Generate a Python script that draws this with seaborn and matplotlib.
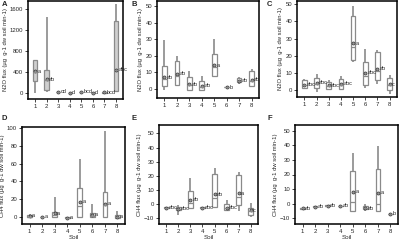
import numpy as np
import pandas as pd
import matplotlib
matplotlib.use("Agg")
import matplotlib.pyplot as plt
import seaborn as sns

sns.set_style("ticks")
plt.rcParams['font.family'] = ['Liberation Sans', 'DejaVu Sans']

soils = ['1', '2', '3', '4', '5', '6', '7', '8']

# box stats per soil: [whisker low, q1, median, q3, whisker high]
a_box = [[0, 224, 400, 640, 640], [32, 64, 250, 448, 1460], [25, 28, 30, 32, 35],
         [2, 4, 5, 6, 8], [20, 23, 25, 27, 30], [2, 4, 5, 6, 8],
         [10, 13, 15, 17, 20], [30, 40, 450, 1376, 1700]]
a_mean = [416, 270, 30, 5, 25, 5, 15, 450]
a_let = ['a', 'ab', 'cd', 'd', 'bcd', 'd', 'bcd', 'abc']

b_box = [[-0.8, 1.6, 6, 13.6, 29.6], [2.6, 2.6, 8, 16.6, 20], [-1.4, -0.4, 2.5, 7.2, 10.6],
         [-0.4, -0.4, 1.5, 4.6, 8], [7.6, 7.6, 13, 21.2, 30], [0.8, 1.0, 1.2, 1.4, 1.6],
         [3, 4, 5, 6.5, 7.5], [2, 2, 5, 10.6, 12]]
b_mean = [7, 9.2, 3, 2, 14.2, 1.2, 5, 5.6]
b_let = ['ab', 'ab', 'ab', 'ab', 'a', 'b', 'ab', 'ab']

c_box = [[1.2, 1.2, 2.5, 5.5, 6.5], [-1.4, 1.2, 3.5, 7, 9], [0.6, 0.6, 2, 4.5, 5.5],
         [0.6, 0.6, 3, 6.5, 8], [16.4, 17.4, 25, 43, 49], [1.2, 2.6, 8, 16.4, 23.7],
         [3.6, 5.5, 11, 22.3, 23], [-2.4, 0, 2.5, 7, 8.5]]
c_mean = [3, 4, 2.6, 3.6, 27.3, 9.9, 12.4, 3.2]
c_let = ['abc', 'abc', 'abc', 'abc', 'a', 'abc', 'ab', 'c']

d_box = [[0, 0, 0.5, 2.5, 3], [0, 0, 0, 0.3, 0.5], [0, 0, 2, 5.8, 22.5],
         [-1.2, -1, -0.8, -0.6, -0.4], [0, 0, 12, 32, 65], [0, 0, 1.5, 5, 14.7],
         [0, 0, 13, 28, 96], [-1.5, -1, 0, 2, 6.8]]
d_mean = [1.5, 0, 4, -0.8, 17, 2.3, 15, 0.4]
d_let = ['a'] * 8

e_box = [[-2.9, -2.7, -2.5, -2.3, -2.1], [-7.6, -4.5, -3.4, -2, -0.6], [-2.5, -2.5, 1, 9.3, 18.7],
         [-2.9, -2.7, -2.5, -2.3, -2.1], [-1.8, -1.8, 4, 21, 25.3], [-4, -4, -2.5, -0.1, 2.9],
         [-5.3, -0.6, 5, 20.6, 23], [-9.5, -7.6, -5, -3, 0.6]]
e_mean = [-2.5, -3.4, 2.9, -2.5, 6.9, -2.5, 7.6, -4.6]
e_let = ['abc', 'abc', 'ab', 'abc', 'ab', 'abc', 'a', 'c']

f_box = [[-3.6, -3.4, -3.2, -3.0, -2.8], [-2.4, -2.2, -2, -1.8, -1.6], [-1.8, -1.6, -1.4, -1.2, -1.0],
         [-2.0, -1.8, -1.6, -1.4, -1.2], [-5, -5, 1, 22.4, 34.7], [-5, -4, -3, -1.5, -0.5],
         [-5, -5, -0.5, 24, 39.5], [-7.4, -7.2, -7, -6.8, -6.6]]
f_mean = [-3.2, -2, -1.4, -1.6, 8, -3.2, 7.3, -7]
f_let = ['ab', 'ab', 'ab', 'ab', 'a', 'ab', 'a', 'b']

n2o_label = 'N2O flux (\u00b5g  g-1 dw soil min-1)'
ch4_label = 'CH4 flux (\u00b5g  g-1 dw soil min-1)'

panels = [
    ('A', a_box, a_mean, a_let, (-110, 1760), [0, 400, 800, 1200, 1600], n2o_label, '#cfcfcf', [28, 123, 1, 99], (2, 4)),
    ('B', b_box, b_mean, b_let, (-5.4, 53), [0, 10, 20, 30, 40, 50], n2o_label, 'white', [157, 259, 1, 98], (132, 4)),
    ('C', c_box, c_mean, c_let, (-4.3, 52), [0, 10, 20, 30, 40, 50], n2o_label, 'white', [297, 397, 1, 97], (267, 4)),
    ('D', d_box, d_mean, d_let, (-7.9, 101), [0, 20, 40, 60, 80, 100], ch4_label, 'white', [22, 125, 127, 224], (2, 118)),
    ('E', e_box, e_mean, e_let, (-14.2, 56), [-10, 0, 10, 20, 30, 40, 50], ch4_label, 'white', [159, 258, 125, 224], (132, 118)),
    ('F', f_box, f_mean, f_let, (-14, 54), [-10, 0, 10, 20, 30, 40, 50], ch4_label, 'white', [295, 398, 125, 224], (267, 118)),
]

W, H = 400, 241
fig = plt.figure(figsize=(4, 2.41), dpi=100)

for tag, box, means, lets, ylim, yticks, ylab, fill, (x0, x1, y0, y1), (tx, ty) in panels:
    ax = fig.add_axes([x0 / W, 1 - y1 / H, (x1 - x0) / W, (y1 - y0) / H])
    df = pd.DataFrame({'Soil': np.repeat(soils, 5), 'flux': np.concatenate(box)})
    sns.boxplot(data=df, x='Soil', y='flux', ax=ax, whis=(0, 100), width=0.38,
                showfliers=False, color=fill, linecolor='#8a8a8a', linewidth=0.9,
                capprops={'linewidth': 0}, whiskerprops={'linewidth': 1.2})
    ax.plot(np.arange(len(soils)), means, 'o', ms=2.2, mfc='#9a9a9a', mec='#333333', mew=0.5)
    for i, (m, t) in enumerate(zip(means, lets)):
        ax.text(i + 0.2, m, t, fontsize=4.0, va='center', ha='left', color='#222222')
    ax.set_ylim(*ylim)
    ax.set_yticks(yticks)
    ax.set_xlim(-0.6, 7.6)
    ax.set_ylabel(ylab, fontsize=4.2, labelpad=1.5)
    if tag in 'DEF':
        ax.set_xlabel('Soil', fontsize=4.5, labelpad=0.5)
    else:
        ax.set_xlabel('')
    ax.tick_params(labelsize=4.3, length=2, width=0.6, pad=1.5)
    for s in ax.spines.values():
        s.set_visible(True)
        s.set_linewidth(1.1)
        s.set_color('black')
    fig.text(tx / W, 1 - ty / H, tag, fontsize=5.5, fontweight='bold', va='center', ha='left')

fig.savefig('out.png', dpi=100)
